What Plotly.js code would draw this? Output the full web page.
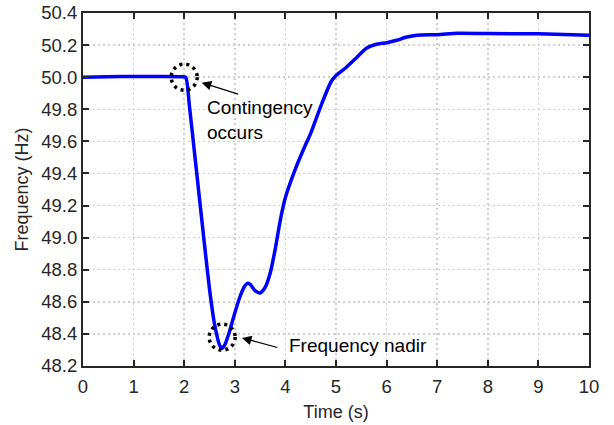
<!DOCTYPE html>
<html>
<head>
<meta charset="utf-8">
<script src="https://cdn.plot.ly/plotly-3.0.1.min.js"></script>
<style>html,body{margin:0;padding:0;background:#fff;}#chart{width:614px;height:425px;}</style>
</head>
<body>
<div id="chart"></div>
<script>
// Data
const timeS = [0, 0.5, 1.0, 1.5, 1.95, 2.03, 2.1, 2.2, 2.3, 2.4, 2.5, 2.6, 2.7, 2.75, 2.8, 2.9, 3.0, 3.1, 3.2, 3.25, 3.3, 3.4, 3.5, 3.6, 3.7, 3.8, 3.9, 4.0, 4.2, 4.4, 4.5, 4.7, 4.9, 5.0, 5.2, 5.4, 5.6, 5.8, 6.0, 6.2, 6.4, 6.6, 7.0, 7.4, 8.0, 9.0, 10.0];
const freqHz = [50.0, 50.003, 50.005, 50.004, 50.003, 50.0, 49.83, 49.54, 49.25, 48.96, 48.68, 48.46, 48.33, 48.31, 48.33, 48.42, 48.53, 48.63, 48.70, 48.715, 48.71, 48.67, 48.655, 48.69, 48.78, 48.93, 49.11, 49.25, 49.43, 49.58, 49.65, 49.82, 49.97, 50.01, 50.06, 50.12, 50.18, 50.205, 50.215, 50.23, 50.25, 50.262, 50.265, 50.274, 50.272, 50.27, 50.262];
const xTicks = [0, 1, 2, 3, 4, 5, 6, 7, 8, 9, 10];
const yTicks = [48.2, 48.4, 48.6, 48.8, 49.0, 49.2, 49.4, 49.6, 49.8, 50.0, 50.2, 50.4];
const xTitle = 'Time (s)';
const yTitle = 'Frequency (Hz)';
const contingencyPoint = [2.0, 50.0];
const nadirPoint = [2.75, 48.38];
const label1 = 'Contingency<br>occurs';
const label2 = 'Frequency nadir';

const FONT = 'Arial, "Liberation Sans", sans-serif';
const axisCommon = {
  showline: true, linecolor: '#262626', linewidth: 2, mirror: 'ticks',
  ticks: 'inside', ticklen: 6, tickwidth: 2, tickcolor: '#262626',
  showgrid: true, gridcolor: '#cfcfcf', gridwidth: 1.5, griddash: '2px,3px',
  zeroline: false,
  tickfont: {family: FONT, size: 18.5, color: '#262626'}
};

function circ(p) {
  return {type: 'circle', xref: 'x', yref: 'y', xsizemode: 'pixel', ysizemode: 'pixel',
    xanchor: p[0], yanchor: p[1], x0: -13, x1: 13, y0: -13, y1: 13,
    line: {color: '#000', width: 3.5, dash: '3px,4px'}};
}

const layout = {
  width: 614, height: 425,
  margin: {l: 83, r: 25, t: 13, b: 59},
  paper_bgcolor: '#fff', plot_bgcolor: '#fff',
  showlegend: false,
  xaxis: Object.assign({}, axisCommon, {range: [0, 10], tickvals: xTicks, ticktext: xTicks.map(String),
    ticklabelstandoff: 3,
    title: {text: xTitle, font: {family: FONT, size: 18, color: '#262626'}, standoff: 9}}),
  yaxis: Object.assign({}, axisCommon, {range: [48.2, 50.4], tickvals: yTicks, ticktext: yTicks.map(v => v.toFixed(1)),
    title: {text: yTitle, font: {family: FONT, size: 18, color: '#262626'}, standoff: 8}}),
  shapes: [circ(contingencyPoint), circ(nadirPoint)],
  annotations: [
    {x: 2.345, y: 49.966, xref: 'x', yref: 'y', ax: 38, ay: 12, text: '', showarrow: true,
     arrowhead: 2, arrowsize: 1.6, arrowwidth: 1.2, arrowcolor: '#000'},
    {x: 2.42, y: 49.734, xref: 'x', yref: 'y', xanchor: 'left', yanchor: 'middle', align: 'left',
     text: label1, showarrow: false, font: {family: FONT, size: 19, color: '#000'}},
    {x: 3.14, y: 48.375, xref: 'x', yref: 'y', ax: 37, ay: 10, text: '', showarrow: true,
     arrowhead: 2, arrowsize: 1.6, arrowwidth: 1.2, arrowcolor: '#000'},
    {x: 4.03, y: 48.327, xref: 'x', yref: 'y', xanchor: 'left', yanchor: 'middle', align: 'left',
     text: label2, showarrow: false, font: {family: FONT, size: 19, color: '#000'}}
  ]
};

const trace = {x: timeS, y: freqHz, type: 'scatter', mode: 'lines',
  line: {color: '#0000ff', width: 3.5, shape: 'spline', smoothing: 0.6}};

Plotly.newPlot('chart', [trace], layout, {displayModeBar: false, staticPlot: true});
</script>
</body>
</html>
